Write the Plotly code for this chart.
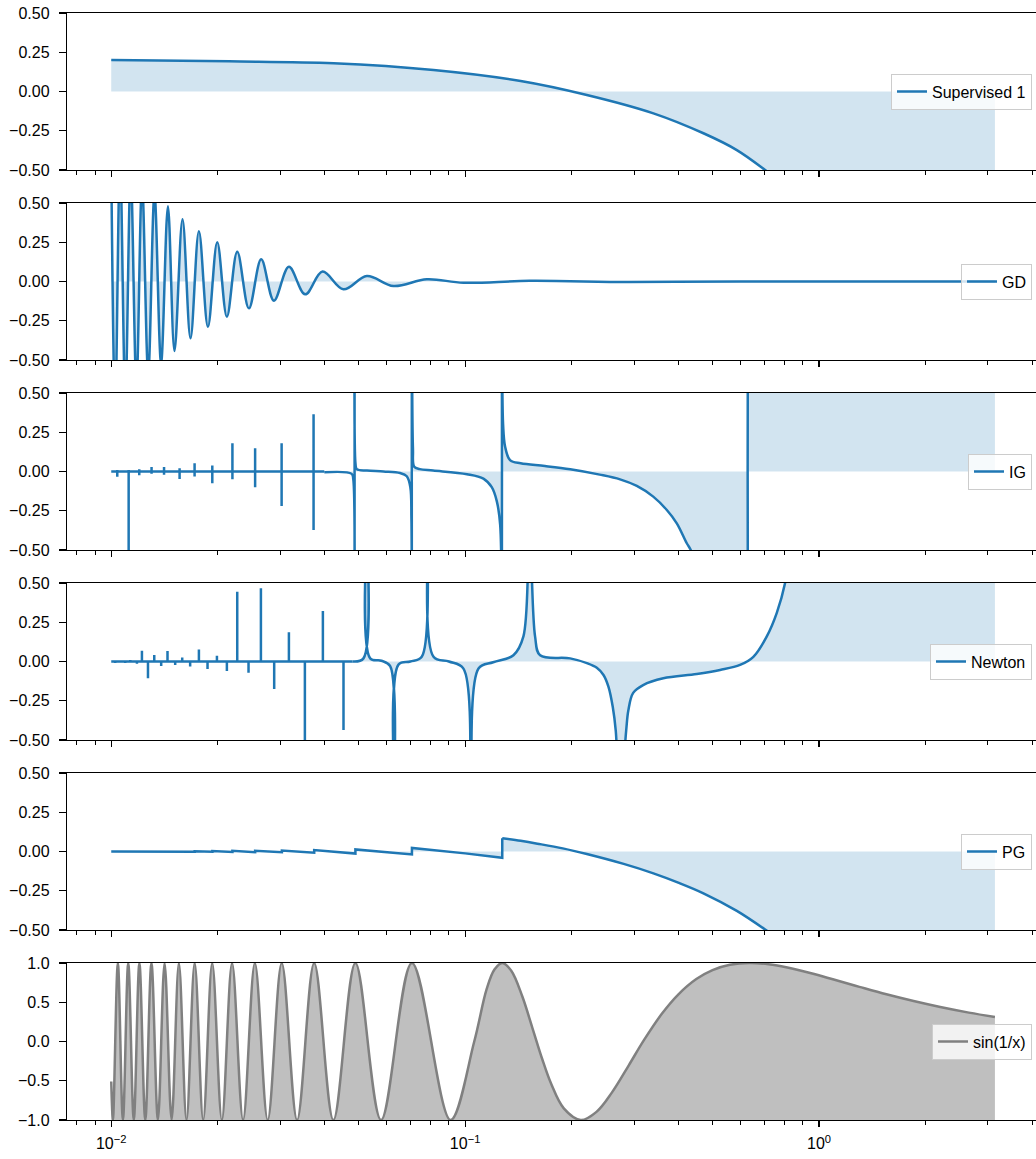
import plotly.graph_objects as go

# ---------------- data ----------------
SUP_X = [0.0100, 0.0215, 0.0425, 0.0814, 0.1435, 0.2207, 0.3404, 0.4713,
         0.5857, 0.7039, 0.8000, 1.0000, 1.5000, 2.0000, 3.1400]
SUP_Y = [0.200, 0.192, 0.180, 0.137, 0.067, -0.022, -0.139, -0.266,
         -0.373, -0.500, -0.600, -0.800, -1.300, -1.800, -2.940]

GD_X = [0.0100, 0.01026, 0.01059, 0.01096, 0.01135, 0.01178, 0.01222, 0.01272, 0.01325,
        0.01383, 0.01446, 0.01509, 0.01590, 0.01675, 0.01769, 0.01876, 0.01993, 0.02122,
        0.02270, 0.02449, 0.02653, 0.02882, 0.03177, 0.03532, 0.03954, 0.04531, 0.05276,
        0.06273, 0.07796, 0.0989, 0.152, 0.29, 0.6, 1.0, 3.14]
GD_Y = [0.75, -0.82, 0.78, -0.74, 0.70, -0.66, 0.63, -0.59, 0.56,
        -0.52, 0.48, -0.443, 0.396, -0.362, 0.320, -0.288, 0.250, -0.224,
        0.190, -0.171, 0.141, -0.122, 0.094, -0.082, 0.063, -0.050, 0.035,
        -0.029, 0.014, -0.008, 0.004, -0.003, 0.0, 0.0, 0.0]

# IG: narrow spikes (x < 0.04), then the smooth part with poles
IG_SPIKE_X = [0.0104, 0.0112, 0.0120, 0.0130, 0.0141, 0.0156, 0.0172, 0.0193,
              0.0220, 0.0255, 0.0303, 0.0373]
IG_SPIKE_LO = [-0.033, -0.900, -0.024, -0.015, -0.020, -0.047, -0.032, -0.075,
               -0.050, -0.101, -0.220, -0.373]
IG_SPIKE_HI = [0.010, 0.010, 0.015, 0.028, 0.028, 0.021, 0.053, 0.039,
               0.180, 0.148, 0.180, 0.364]
IG_X = [0.0400, 0.0478, 0.0483, 0.0487, 0.0487, 0.0490, 0.0494, 0.0528, 0.0588, 0.0655,
        0.0684, 0.0700, 0.0705, 0.0707, 0.0707, 0.0712, 0.0718, 0.0744, 0.0812, 0.1012,
        0.1126, 0.1189, 0.1229, 0.1256, 0.1270, 0.1270, 0.1280, 0.1297, 0.1339, 0.1435,
        0.1680, 0.1981, 0.2400, 0.2740, 0.3055, 0.3400, 0.3714, 0.3963, 0.4229, 0.4340,
        0.4800, 0.5500, 0.6200, 0.6355, 0.6355, 0.7000, 1.0000, 2.0000, 3.1400]
IG_Y = [-0.005, -0.015, -0.050, -0.900, 0.900, 0.050, 0.015, 0.006, 0.000, -0.010,
        -0.030, -0.100, -0.300, -0.900, 0.900, 0.150, 0.030, 0.015, 0.006, -0.017,
        -0.045, -0.100, -0.190, -0.340, -0.900, 0.900, 0.300, 0.158, 0.073, 0.052,
        0.035, 0.014, -0.020, -0.050, -0.092, -0.160, -0.245, -0.330, -0.457, -0.500,
        -0.800, -1.500, -4.000, -9.000, 9.000, 4.000, 2.000, 1.200, 1.000]

# Newton: narrow spikes (x < 0.048), then the smooth part
NEWTON_SPIKE_X = [0.01026, 0.01060, 0.01095, 0.01132, 0.01182, 0.01221, 0.01270, 0.01323,
                  0.01384, 0.01442, 0.01516, 0.01587, 0.01671, 0.01769, 0.01871, 0.01989,
                  0.02122, 0.02270, 0.02443, 0.02648, 0.02887, 0.03177, 0.03525, 0.03963,
                  0.04532]
NEWTON_SPIKE_Y = [-0.010, 0.008, -0.010, 0.010, -0.015, 0.069, -0.107, 0.042,
                  -0.029, 0.067, -0.022, 0.025, -0.032, 0.077, -0.047, 0.036,
                  -0.060, 0.445, -0.071, 0.466, -0.175, 0.186, -0.900, 0.322,
                  -0.436]
NEWTON_X = [0.0480, 0.05161, 0.05276, 0.05390, 0.0580, 0.0614, 0.06313, 0.0648, 0.0700,
            0.0754, 0.07846, 0.0814, 0.0900, 0.0989, 0.1038, 0.1091, 0.1200, 0.1369,
            0.1461, 0.1519, 0.1576, 0.1629, 0.1980, 0.2218, 0.2355, 0.2460, 0.2540,
            0.2613, 0.2664, 0.2740, 0.2851, 0.2892, 0.2984, 0.3184, 0.3631, 0.4514,
            0.5252, 0.5981, 0.6522, 0.7118, 0.7596, 0.8017, 0.8500, 1.0000, 2.0000, 3.1400]
NEWTON_Y = [0.000, 0.020, 0.900, 0.020, 0.005, -0.030, -0.900, -0.020, 0.000,
            0.030, 0.900, 0.030, 0.000, -0.045, -0.900, -0.045, -0.005, 0.040,
            0.160, 0.900, 0.160, 0.040, 0.020, -0.012, -0.040, -0.086, -0.160,
            -0.290, -0.440, -0.900, -0.440, -0.310, -0.200, -0.150, -0.107, -0.080,
            -0.054, -0.022, 0.030, 0.160, 0.310, 0.500, 0.900, 2.000, 3.000, 3.500]

# PG: sawtooth part, then smooth tail
PG_SAW_X = [0.0100, 0.01721, 0.01721, 0.01931, 0.01931, 0.02200, 0.02200, 0.02550, 0.02550,
            0.03035, 0.03035, 0.03745, 0.03745, 0.04897, 0.04897, 0.07074, 0.07074, 0.1000,
            0.1273, 0.1273]
PG_SAW_Y = [0.000, -0.002, 0.002, -0.002, 0.003, -0.003, 0.004, -0.004, 0.005,
            -0.005, 0.006, -0.008, 0.009, -0.013, 0.013, -0.019, 0.023, -0.012,
            -0.040, 0.085]
PG_TAIL_X = [0.1273, 0.1435, 0.1600, 0.1887, 0.2207, 0.2805, 0.3404, 0.4000, 0.4713,
             0.5857, 0.7039, 0.8000, 1.0000, 1.5000, 2.0000, 3.1400]
PG_TAIL_Y = [0.085, 0.068, 0.050, 0.020, -0.016, -0.079, -0.139, -0.198, -0.266,
             -0.378, -0.497, -0.590, -0.790, -1.290, -1.790, -2.930]

SIN_X = [0.01000, 0.01011, 0.01044, 0.01079, 0.01117, 0.01158, 0.01201, 0.01248, 0.01299,
         0.01355, 0.01415, 0.01481, 0.01553, 0.01632, 0.01721, 0.01819, 0.01929, 0.02054,
         0.02195, 0.02358, 0.02546, 0.02768, 0.03032, 0.03351, 0.03745, 0.04244, 0.04897,
         0.05787, 0.07074, 0.09095, 0.1061, 0.1150, 0.1210, 0.1273, 0.1350, 0.1450,
         0.1550, 0.1650, 0.1750, 0.1900, 0.2122, 0.2350, 0.2600, 0.2900, 0.3200,
         0.3600, 0.4000, 0.4500, 0.5000, 0.5600, 0.6366, 0.7200, 0.8200, 0.9500,
         1.1000, 1.3000, 1.5500, 1.8500, 2.2000, 2.6500, 3.1400]
SIN_Y = [-0.51, -1.0, 1.0, -1.0, 1.0, -1.0, 1.0, -1.0, 1.0,
         -1.0, 1.0, -1.0, 1.0, -1.0, 1.0, -1.0, 1.0, -1.0,
         1.0, -1.0, 1.0, -1.0, 1.0, -1.0, 1.0, -1.0, 1.0,
         -1.0, 1.0, -1.0, 0.000, 0.666, 0.917, 1.000, 0.902, 0.576,
         0.168, -0.220, -0.539, -0.852, -1.000, -0.896, -0.648, -0.303, 0.017,
         0.356, 0.598, 0.795, 0.909, 0.977, 1.000, 0.984, 0.939, 0.869,
         0.789, 0.696, 0.601, 0.515, 0.439, 0.368, 0.313]

NAMES = ["Supervised 1", "GD", "IG", "Newton", "PG", "sin(1/x)"]
MAJOR_X = [0.01, 0.1, 1]
MAJOR_X_TEXT = ["10<sup>\u22122</sup>", "10<sup>\u22121</sup>", "10<sup>0</sup>"]
MINOR_X = [0.008, 0.009, 0.02, 0.03, 0.04, 0.05, 0.06, 0.07, 0.08, 0.09,
           0.2, 0.3, 0.4, 0.5, 0.6, 0.7, 0.8, 0.9, 2, 3, 4]
Y_TICKS_SMALL = [-0.5, -0.25, 0.0, 0.25, 0.5]
Y_TEXT_SMALL = ["\u22120.50", "\u22120.25", "0.00", "0.25", "0.50"]
Y_TICKS_BIG = [-1.0, -0.5, 0.0, 0.5, 1.0]
Y_TEXT_BIG = ["\u22121.0", "\u22120.5", "0.0", "0.5", "1.0"]


def spikes_to_series(xs, los, his, start_x, end_x):
    """Baseline at zero with a vertical spike (lo..hi) at each listed x."""
    sx, sy = [start_x], [0.0]
    for x, lo, hi in zip(xs, los, his):
        sx += [x, x, x, x]
        sy += [0.0, lo, hi, 0.0]
    sx.append(end_x)
    sy.append(0.0)
    return sx, sy


ig_sx, ig_sy = spikes_to_series(IG_SPIKE_X, IG_SPIKE_LO, IG_SPIKE_HI, 0.0100, 0.0400)
nw_sx, nw_sy = spikes_to_series(NEWTON_SPIKE_X, NEWTON_SPIKE_Y,
                                [0.0] * len(NEWTON_SPIKE_X), 0.0100, 0.0480)

# ---------------- figure ----------------
W, H = 1036, 1159
AX_LEFT = 67
FONT = "Liberation Sans, Arial, Helvetica, sans-serif"
BLUE = "#1f77b4"
BLUE_FILL = "rgba(31,119,180,0.2)"
GRAY = "#808080"
GRAY_FILL = "rgba(128,128,128,0.5)"
PANEL_TOP0, PANEL_STEP, PANEL_H = 13, 190, 157

fig = go.Figure()

panels = [
    ([(SUP_X, SUP_Y, "spline")], BLUE, BLUE_FILL, None),
    ([(GD_X, GD_Y, "spline")], BLUE, BLUE_FILL, None),
    ([(ig_sx, ig_sy, "linear"), (IG_X, IG_Y, "spline")], BLUE, BLUE_FILL, None),
    ([(nw_sx, nw_sy, "linear"), (NEWTON_X, NEWTON_Y, "spline")], BLUE, BLUE_FILL, None),
    ([(PG_SAW_X, PG_SAW_Y, "linear"), (PG_TAIL_X, PG_TAIL_Y, "spline")], BLUE, BLUE_FILL, None),
    ([(SIN_X, SIN_Y, "spline")], GRAY, GRAY_FILL, -1.0),
]

for k, (pieces, col, fcol, base) in enumerate(panels):
    sfx = "" if k == 0 else str(k + 1)
    xa, ya, lg = "x" + sfx, "y" + sfx, "legend" + sfx
    for xs, ys, shape in pieces:
        if base is None:
            fig.add_trace(go.Scatter(x=xs, y=ys, mode="lines",
                                     line=dict(width=0, shape=shape, simplify=False),
                                     fill="tozeroy", fillcolor=fcol, showlegend=False,
                                     hoverinfo="skip", xaxis=xa, yaxis=ya))
        else:
            fig.add_trace(go.Scatter(x=[xs[0], xs[-1]], y=[base, base], mode="lines",
                                     line=dict(width=0), showlegend=False,
                                     hoverinfo="skip", xaxis=xa, yaxis=ya))
            fig.add_trace(go.Scatter(x=xs, y=ys, mode="lines",
                                     line=dict(width=0, shape=shape, simplify=False),
                                     fill="tonexty", fillcolor=fcol, showlegend=False,
                                     hoverinfo="skip", xaxis=xa, yaxis=ya))
    for i, (xs, ys, shape) in enumerate(pieces):
        fig.add_trace(go.Scatter(x=xs, y=ys, mode="lines", name=NAMES[k],
                                 line=dict(color=col, width=2.5, shape=shape, simplify=False),
                                 showlegend=(i == 0), legend=lg, xaxis=xa, yaxis=ya))

layout = dict(
    width=W, height=H,
    margin=dict(l=AX_LEFT, r=0, t=0, b=0),
    paper_bgcolor="white", plot_bgcolor="white",
    font=dict(family=FONT, size=16, color="black"),
)

for k in range(6):
    sfx = "" if k == 0 else str(k + 1)
    top = PANEL_TOP0 + PANEL_STEP * k
    bot = top + PANEL_H
    dom = [1 - bot / H, 1 - top / H]
    last = (k == 5)
    layout["xaxis" + sfx] = dict(
        type="log", range=[-2.125, 0.613], domain=[0, 1], anchor="y" + sfx,
        showline=True, linecolor="black", linewidth=1.2, mirror=True,
        ticks="outside", ticklen=6, tickwidth=1.2, tickcolor="black",
        tickmode="array", tickvals=MAJOR_X, ticktext=MAJOR_X_TEXT,
        showticklabels=last, showgrid=False, zeroline=False,
        ticklabelstandoff=3, ticklabeloverflow="allow",
        tickfont=dict(family=FONT, size=16, color="black"),
        minor=dict(tickmode="array", tickvals=MINOR_X, ticks="outside", ticklen=3.5,
                   tickwidth=1, tickcolor="black", showgrid=False),
        automargin=False,
    )
    layout["yaxis" + sfx] = dict(
        domain=dom, anchor="x" + sfx,
        range=[-1, 1] if last else [-0.5, 0.5],
        tickmode="array",
        tickvals=Y_TICKS_BIG if last else Y_TICKS_SMALL,
        ticktext=Y_TEXT_BIG if last else Y_TEXT_SMALL,
        showline=True, linecolor="black", linewidth=1.2, mirror=False,
        ticks="outside", ticklen=7, tickwidth=1.2, tickcolor="black",
        showgrid=False, zeroline=False,
        ticklabelstandoff=6, ticklabeloverflow="allow",
        tickfont=dict(family=FONT, size=16, color="black"),
        automargin=False,
    )
    layout["legend" + sfx] = dict(
        x=(1032 - AX_LEFT) / (W - AX_LEFT), xanchor="right",
        y=1 - (top + PANEL_H / 2) / H, yanchor="middle",
        bgcolor="rgba(255,255,255,0.8)", bordercolor="#cccccc", borderwidth=1,
        font=dict(family=FONT, size=16, color="black"),
        itemwidth=30,
    )

fig.update_layout(**layout)
# remove the default 8px page margin so the figure fills the window exactly
fig.write_html("out.html",
               config={"displayModeBar": False, "staticPlot": True},
               post_script="document.body.style.margin='0';document.body.style.overflow='hidden';")
